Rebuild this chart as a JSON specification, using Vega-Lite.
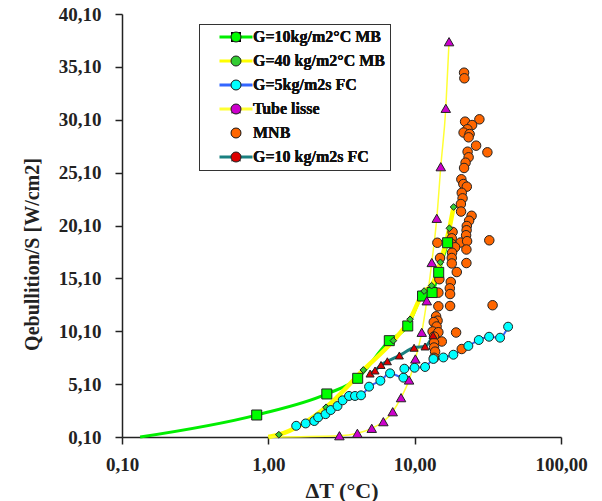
{
  "$schema": "https://vega.github.io/schema/vega-lite/v6.json",
  "width": 439,
  "height": 423,
  "autosize": {"type": "none"},
  "padding": {"left": 122, "top": 14, "right": 41, "bottom": 64},
  "background": "white",
  "config": {"view": {"stroke": null}, "font": "Liberation Serif"},
  "data": {
    "values": [
      {"s": "MNB", "x": 21.76, "y": 34.55}, {"s": "MNB", "x": 21.86, "y": 34.02}, {"s": "MNB", "x": 22.11, "y": 29.92},
      {"s": "MNB", "x": 27.69, "y": 30.14}, {"s": "MNB", "x": 24.69, "y": 29.6}, {"s": "MNB", "x": 22.93, "y": 29.2},
      {"s": "MNB", "x": 21.59, "y": 28.89}, {"s": "MNB", "x": 23.74, "y": 28.75}, {"s": "MNB", "x": 23.37, "y": 28.44},
      {"s": "MNB", "x": 26.29, "y": 27.65}, {"s": "MNB", "x": 31.4, "y": 27.02}, {"s": "MNB", "x": 23.0, "y": 27.08},
      {"s": "MNB", "x": 23.37, "y": 26.55}, {"s": "MNB", "x": 22.28, "y": 26.04}, {"s": "MNB", "x": 21.76, "y": 25.54},
      {"s": "MNB", "x": 20.85, "y": 24.47}, {"s": "MNB", "x": 21.52, "y": 24.02}, {"s": "MNB", "x": 22.71, "y": 23.77},
      {"s": "MNB", "x": 20.98, "y": 23.19}, {"s": "MNB", "x": 21.25, "y": 22.67}, {"s": "MNB", "x": 20.69, "y": 22.13},
      {"s": "MNB", "x": 20.75, "y": 21.42}, {"s": "MNB", "x": 24.49, "y": 21.02}, {"s": "MNB", "x": 23.55, "y": 20.55},
      {"s": "MNB", "x": 22.71, "y": 20.05}, {"s": "MNB", "x": 22.64, "y": 19.65}, {"s": "MNB", "x": 22.46, "y": 19.18},
      {"s": "MNB", "x": 18.16, "y": 19.49}, {"s": "MNB", "x": 14.29, "y": 18.47}, {"s": "MNB", "x": 17.93, "y": 18.89},
      {"s": "MNB", "x": 20.59, "y": 18.49}, {"s": "MNB", "x": 22.82, "y": 18.62}, {"s": "MNB", "x": 32.36, "y": 18.7},
      {"s": "MNB", "x": 17.93, "y": 18.35}, {"s": "MNB", "x": 18.89, "y": 18.04}, {"s": "MNB", "x": 22.57, "y": 17.83},
      {"s": "MNB", "x": 18.01, "y": 17.52}, {"s": "MNB", "x": 14.91, "y": 17.03}, {"s": "MNB", "x": 17.93, "y": 17.03},
      {"s": "MNB", "x": 22.57, "y": 16.55}, {"s": "MNB", "x": 17.93, "y": 16.51}, {"s": "MNB", "x": 19.4, "y": 15.7},
      {"s": "MNB", "x": 14.75, "y": 15.02}, {"s": "MNB", "x": 17.65, "y": 14.76}, {"s": "MNB", "x": 17.38, "y": 14.16},
      {"s": "MNB", "x": 17.46, "y": 13.62}, {"s": "MNB", "x": 14.52, "y": 13.75}, {"s": "MNB", "x": 14.52, "y": 12.46},
      {"s": "MNB", "x": 17.46, "y": 12.49}, {"s": "MNB", "x": 34.08, "y": 12.56}, {"s": "MNB", "x": 14.01, "y": 11.51},
      {"s": "MNB", "x": 14.34, "y": 11.1}, {"s": "MNB", "x": 13.51, "y": 10.97}, {"s": "MNB", "x": 14.12, "y": 10.55},
      {"s": "MNB", "x": 13.26, "y": 10.08}, {"s": "MNB", "x": 14.52, "y": 10.01}, {"s": "MNB", "x": 19.19, "y": 9.98},
      {"s": "MNB", "x": 13.57, "y": 9.6}, {"s": "MNB", "x": 15.32, "y": 9.13}, {"s": "MNB", "x": 13.57, "y": 9.02},
      {"s": "MNB", "x": 13.57, "y": 8.56}, {"s": "MNB", "x": 20.98, "y": 8.42}, {"s": "MNB", "x": 13.79, "y": 8.17},
      {"s": "MNB", "x": 13.57, "y": 7.59},

      {"s": "G=10kg/m2°C MB", "x": 0.133, "y": 0.1, "m": 0},
      {"s": "G=10kg/m2°C MB", "x": 0.833, "y": 2.18},
      {"s": "G=10kg/m2°C MB", "x": 2.51, "y": 4.17},
      {"s": "G=10kg/m2°C MB", "x": 4.08, "y": 5.65},
      {"s": "G=10kg/m2°C MB", "x": 6.71, "y": 9.21},
      {"s": "G=10kg/m2°C MB", "x": 8.97, "y": 10.6},
      {"s": "G=10kg/m2°C MB", "x": 11.32, "y": 13.43},
      {"s": "G=10kg/m2°C MB", "x": 13.15, "y": 13.76},
      {"s": "G=10kg/m2°C MB", "x": 14.6, "y": 15.67},
      {"s": "G=10kg/m2°C MB", "x": 16.8, "y": 18.47},

      {"s": "G=40 kg/m2°C MB", "x": 1.0, "y": 0.1, "m": 0},
      {"s": "G=40 kg/m2°C MB", "x": 1.18, "y": 0.32},
      {"s": "G=40 kg/m2°C MB", "x": 2.48, "y": 2.91},
      {"s": "G=40 kg/m2°C MB", "x": 4.46, "y": 6.44},
      {"s": "G=40 kg/m2°C MB", "x": 7.15, "y": 9.21},
      {"s": "G=40 kg/m2°C MB", "x": 9.3, "y": 11.23},
      {"s": "G=40 kg/m2°C MB", "x": 11.6, "y": 13.9},
      {"s": "G=40 kg/m2°C MB", "x": 13.05, "y": 14.41},
      {"s": "G=40 kg/m2°C MB", "x": 14.99, "y": 16.62},
      {"s": "G=40 kg/m2°C MB", "x": 17.27, "y": 19.84},
      {"s": "G=40 kg/m2°C MB", "x": 18.45, "y": 21.85},

      {"s": "\u00a0G=5kg/m2s FC", "x": 1.55, "y": 1.16},
      {"s": "\u00a0G=5kg/m2s FC", "x": 1.8, "y": 1.38},
      {"s": "\u00a0G=5kg/m2s FC", "x": 2.06, "y": 1.61},
      {"s": "\u00a0G=5kg/m2s FC", "x": 2.19, "y": 1.96},
      {"s": "\u00a0G=5kg/m2s FC", "x": 2.46, "y": 2.26},
      {"s": "\u00a0G=5kg/m2s FC", "x": 2.67, "y": 2.65},
      {"s": "\u00a0G=5kg/m2s FC", "x": 2.97, "y": 3.03},
      {"s": "\u00a0G=5kg/m2s FC", "x": 3.22, "y": 3.57},
      {"s": "\u00a0G=5kg/m2s FC", "x": 3.56, "y": 3.98},
      {"s": "\u00a0G=5kg/m2s FC", "x": 3.91, "y": 3.98},
      {"s": "\u00a0G=5kg/m2s FC", "x": 4.3, "y": 4.04},
      {"s": "\u00a0G=5kg/m2s FC", "x": 4.88, "y": 4.86},
      {"s": "\u00a0G=5kg/m2s FC", "x": 5.83, "y": 5.42},
      {"s": "\u00a0G=5kg/m2s FC", "x": 6.79, "y": 6.12},
      {"s": "\u00a0G=5kg/m2s FC", "x": 8.37, "y": 5.71},
      {"s": "\u00a0G=5kg/m2s FC", "x": 8.5, "y": 6.56},
      {"s": "\u00a0G=5kg/m2s FC", "x": 9.98, "y": 6.65},
      {"s": "\u00a0G=5kg/m2s FC", "x": 11.78, "y": 6.72},
      {"s": "\u00a0G=5kg/m2s FC", "x": 13.43, "y": 7.48},
      {"s": "\u00a0G=5kg/m2s FC", "x": 15.71, "y": 7.62},
      {"s": "\u00a0G=5kg/m2s FC", "x": 18.39, "y": 7.88},
      {"s": "\u00a0G=5kg/m2s FC", "x": 23.28, "y": 8.71},
      {"s": "\u00a0G=5kg/m2s FC", "x": 27.43, "y": 9.27},
      {"s": "\u00a0G=5kg/m2s FC", "x": 32.25, "y": 9.58},
      {"s": "\u00a0G=5kg/m2s FC", "x": 38.35, "y": 9.49},
      {"s": "\u00a0G=5kg/m2s FC", "x": 43.5, "y": 10.53},

      {"s": "Tube lisse", "x": 1.0, "y": 0.1, "m": 0},
      {"s": "Tube lisse", "x": 3.06, "y": 0.22},
      {"s": "Tube lisse", "x": 4.06, "y": 0.45},
      {"s": "Tube lisse", "x": 5.09, "y": 0.92},
      {"s": "Tube lisse", "x": 6.11, "y": 1.55},
      {"s": "Tube lisse", "x": 7.08, "y": 2.49},
      {"s": "Tube lisse", "x": 8.07, "y": 3.82},
      {"s": "Tube lisse", "x": 9.16, "y": 5.49},
      {"s": "Tube lisse", "x": 10.11, "y": 7.48},
      {"s": "Tube lisse", "x": 11.18, "y": 10.0},
      {"s": "Tube lisse", "x": 12.1, "y": 12.98},
      {"s": "Tube lisse", "x": 13.09, "y": 16.6},
      {"s": "Tube lisse", "x": 14.16, "y": 20.78},
      {"s": "Tube lisse", "x": 15.08, "y": 25.66},
      {"s": "Tube lisse", "x": 16.32, "y": 31.18},
      {"s": "Tube lisse", "x": 17.18, "y": 37.48},

      {"s": "G=10 kg/m2s FC", "x": 4.96, "y": 6.1},
      {"s": "G=10 kg/m2s FC", "x": 5.36, "y": 6.39},
      {"s": "G=10 kg/m2s FC", "x": 5.89, "y": 6.91},
      {"s": "G=10 kg/m2s FC", "x": 6.51, "y": 7.26},
      {"s": "G=10 kg/m2s FC", "x": 7.86, "y": 7.81},
      {"s": "G=10 kg/m2s FC", "x": 9.91, "y": 8.54},
      {"s": "G=10 kg/m2s FC", "x": 11.78, "y": 8.66},
      {"s": "G=10 kg/m2s FC", "x": 13.36, "y": 9.72}
    ]
  },
  "encoding": {
    "x": {
      "field": "x", "type": "quantitative",
      "scale": {"type": "log", "domain": [0.1, 100], "nice": false},
      "axis": {
        "values": [0.1, 1, 10, 100],
        "labelExpr": "replace(format(datum.value, '.2f'), '.', ',')",
        "grid": false, "domainColor": "#222", "domainWidth": 1.5,
        "tickColor": "#222", "tickWidth": 1.5, "tickSize": 7,
        "labelFont": "Liberation Serif", "labelFontWeight": "bold", "labelFontSize": 19, "labelColor": "#222",
        "labelBaseline": "alphabetic", "labelPadding": 26, "labelFlush": false, "labelOverlap": false,
        "title": "ΔT (°C)", "titleFont": "Liberation Serif", "titleFontSize": 22, "titleFontWeight": "bold",
        "titleColor": "#222", "titleBaseline": "alphabetic", "titleY": 60
      }
    },
    "y": {
      "field": "y", "type": "quantitative",
      "scale": {"domain": [0.1, 40.1], "nice": false, "zero": false},
      "axis": {
        "values": [0.1, 5.1, 10.1, 15.1, 20.1, 25.1, 30.1, 35.1, 40.1],
        "labelExpr": "replace(format(datum.value, '.2f'), '.', ',')",
        "grid": false, "domainColor": "#222", "domainWidth": 1.5,
        "tickColor": "#222", "tickWidth": 1.5, "tickSize": 7,
        "labelFont": "Liberation Serif", "labelFontWeight": "bold", "labelFontSize": 19, "labelColor": "#222",
        "labelPadding": 14, "labelFlush": false, "labelOverlap": false,
        "title": "Qebullition/S [W/cm2]", "titleFont": "Liberation Serif", "titleFontSize": 20, "titleFontWeight": "bold",
        "titleColor": "#222", "titleBaseline": "alphabetic", "titleX": -84, "titleY": 240
      }
    }
  },
  "layer": [
    {
      "mark": {"type": "line", "interpolate": "monotone"},
      "encoding": {
        "stroke": {
          "field": "s", "type": "nominal",
          "sort": ["G=10kg/m2°C MB", "G=40 kg/m2°C MB", "\u00a0G=5kg/m2s FC", "Tube lisse", "MNB", "G=10 kg/m2s FC"],
          "scale": {"range": ["#00EE00", "#FFFF00", "#3366FF", "#FFFF33", "rgba(0,0,0,0)", "#1A8080"]},
          "legend": {
            "orient": "none", "legendX": 77, "legendY": 10, "title": null, "direction": "vertical",
            "padding": 5, "symbolOffset": 24, "labelOffset": 9, "rowPadding": 8,
            "symbolType": "M-3.3,0H3.3", "symbolSize": 100, "symbolStrokeWidth": 3,
            "labelExpr": "''", "labelFont": "Liberation Serif", "labelFontWeight": "bold", "labelFontSize": 16,
            "labelLimit": 0, "zindex": 1
          }
        },
        "strokeWidth": {
          "field": "s", "type": "nominal",
          "sort": ["G=10kg/m2°C MB", "G=40 kg/m2°C MB", "\u00a0G=5kg/m2s FC", "Tube lisse", "MNB", "G=10 kg/m2s FC"],
          "scale": {"type": "ordinal", "range": [3, 4.5, 2, 1.5, 0, 3]},
          "legend": null
        }
      }
    },
    {
      "transform": [{"filter": "datum.m !== 0"}],
      "mark": {"type": "point", "filled": true, "stroke": "#222", "strokeWidth": 1, "opacity": 1},
      "encoding": {
        "fill": {
          "field": "s", "type": "nominal",
          "sort": ["G=10kg/m2°C MB", "G=40 kg/m2°C MB", "\u00a0G=5kg/m2s FC", "Tube lisse", "MNB", "G=10 kg/m2s FC"],
          "scale": {"range": ["#00FF00", "#33CC33", "#00FFFF", "#CC00CC", "#FF6600", "#DD0000"]},
          "legend": {
            "orient": "none", "legendX": 77, "legendY": 10, "title": null, "direction": "vertical",
            "padding": 5, "symbolOffset": 24, "labelOffset": 9, "rowPadding": 8,
            "symbolStrokeColor": "#222", "symbolStrokeWidth": 1,
            "labelColor": "#111", "labelFont": "Liberation Serif", "labelFontWeight": "bold", "labelFontSize": 16,
            "labelLimit": 0, "strokeColor": "#333", "zindex": 2
          }
        },
        "shape": {
          "field": "s", "type": "nominal",
          "sort": ["G=10kg/m2°C MB", "G=40 kg/m2°C MB", "\u00a0G=5kg/m2s FC", "Tube lisse", "MNB", "G=10 kg/m2s FC"],
          "scale": {"range": ["square", "diamond", "circle", "triangle-up", "circle", "triangle-up"]},
          "legend": {
            "orient": "none", "legendX": 77, "legendY": 10, "title": null, "direction": "vertical",
            "padding": 5, "symbolOffset": 24, "labelOffset": 9, "rowPadding": 8,
            "symbolStrokeColor": "#222", "symbolStrokeWidth": 1,
            "labelColor": "#111", "labelFont": "Liberation Serif", "labelFontWeight": "bold", "labelFontSize": 16,
            "labelLimit": 0, "strokeColor": "#333", "zindex": 2
          }
        },
        "size": {
          "field": "s", "type": "nominal",
          "sort": ["G=10kg/m2°C MB", "G=40 kg/m2°C MB", "\u00a0G=5kg/m2s FC", "Tube lisse", "MNB", "G=10 kg/m2s FC"],
          "scale": {"type": "ordinal", "range": [100, 45, 80, 90, 90, 65]},
          "legend": {
            "orient": "none", "legendX": 77, "legendY": 10, "title": null, "direction": "vertical",
            "padding": 5, "symbolOffset": 24, "labelOffset": 9, "rowPadding": 8,
            "symbolStrokeColor": "#222", "symbolStrokeWidth": 1,
            "labelColor": "#111", "labelFont": "Liberation Serif", "labelFontWeight": "bold", "labelFontSize": 16,
            "labelLimit": 0, "strokeColor": "#333", "zindex": 2
          }
        }
      }
    }
  ]
}
